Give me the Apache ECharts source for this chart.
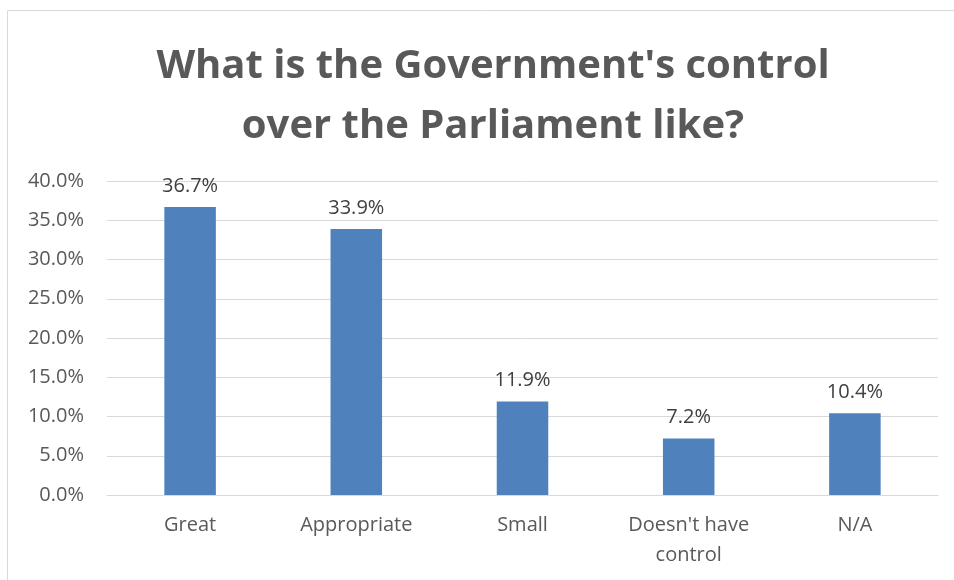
<!DOCTYPE html>
<html><head><meta charset="utf-8">
<script src="https://cdn.jsdelivr.net/npm/echarts@6/dist/echarts.min.js"></script>
<style>html,body{margin:0;padding:0;background:#fff}#c{width:954px;height:580px}</style>
</head><body><div id="c"></div>
<script>
const titleText = "What is the Government's control\nover the Parliament like?";
const categories = ["Great", "Appropriate", "Small", "Doesn't have\ncontrol", "N/A"];
const values = [36.7, 33.9, 11.9, 7.2, 10.4];
const yTicks = { min: 0, max: 40, interval: 5 };

const chart = echarts.init(document.getElementById('c'));
chart.setOption({
  animation: false,
  graphic: [{ type: 'rect', shape: { x: 7.5, y: 10.5, width: 1000, height: 1000 }, style: { fill: 'none', stroke: '#d9d9d9', lineWidth: 1 } }],
  title: {
    text: titleText, left: 488, top: 32, textAlign: 'center',
    textStyle: { fontFamily: 'Open Sans', fontWeight: 'bold', fontSize: 40, color: '#595959', lineHeight: 60 }
  },
  grid: { left: 107, right: 16, top: 181, bottom: 85, containLabel: false },
  xAxis: {
    type: 'category', data: categories,
    axisLine: { lineStyle: { color: '#d9d9d9', width: 1 } }, axisTick: { show: false },
    axisLabel: { color: '#595959', fontFamily: 'Open Sans', fontSize: 20, margin: 15, lineHeight: 30, interval: 0 }
  },
  yAxis: {
    type: 'value', min: yTicks.min, max: yTicks.max, interval: yTicks.interval,
    axisLine: { show: false }, axisTick: { show: false },
    splitLine: { lineStyle: { color: '#d9d9d9', width: 1 } },
    axisLabel: { color: '#595959', fontFamily: 'Open Sans', fontSize: 20, margin: 23, formatter: v => v.toFixed(1) + '%' }
  },
  series: [{
    type: 'bar', data: values, barWidth: '31%',
    itemStyle: { color: '#4f81bd' },
    label: { show: true, position: 'top', distance: 11, color: '#404040', fontFamily: 'Open Sans', fontSize: 20, formatter: p => p.value.toFixed(1) + '%' }
  }]
});
</script></body></html>
